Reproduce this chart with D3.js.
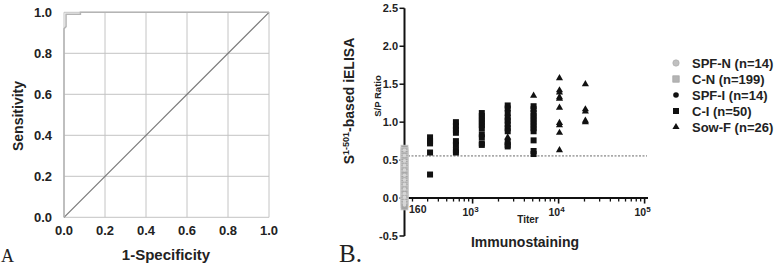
<!DOCTYPE html>
<html>
<script src="https://d3js.org/d3.v7.min.js"></script>
<style>
    body { margin: 0; background: #fff; }
    text { font-family: "Liberation Sans", Arial, sans-serif; fill: #222; }
</style>
<body></body>
<script>
    const width = 778, height = 267;

    // panel A: ROC curve
    const rocFpr = [0, 0, 0.01, 0.01, 0.08, 0.08, 1];
    const rocTpr = [0, 0.92, 0.93, 0.99, 0.99, 1, 1];
    const rocTicks = [0, 0.2, 0.4, 0.6, 0.8, 1];

    // panel B: titers and S/P ratios
    const cnValues = [0.65, 0.62, 0.6, 0.58, 0.55, 0.53, 0.5, 0.48, 0.45, 0.42, 0.4, 0.37, 0.35, 0.32, 0.3,
        0.27, 0.25, 0.22, 0.2, 0.17, 0.15, 0.12, 0.1, 0.07, 0.05, 0.02, 0.0, -0.02, -0.05, -0.08, -0.11];
    const spfnValues = [0.63, 0.56, 0.49, 0.43, 0.37, 0.3, 0.24, 0.18, 0.12, 0.06, 0.01, -0.04, -0.07, -0.09];
    const ciTiters = [320, 640, 1280, 2560, 5120];
    const ciValues = [
        [0.8, 0.75, 0.72, 0.6, 0.31],
        [1.0, 0.95, 0.9, 0.86, 0.75, 0.7, 0.63, 0.6],
        [1.12, 1.08, 1.04, 1.0, 0.96, 0.92, 0.84, 0.8, 0.72, 0.7],
        [1.22, 1.18, 1.12, 1.06, 1.02, 0.97, 0.92, 0.88, 0.74, 0.7, 0.68],
        [1.21, 1.17, 1.12, 1.08, 1.04, 1.0, 0.96, 0.92, 0.88, 0.76, 0.62, 0.58]
    ];
    const sowTiters = [2560, 5120, 10240, 20480];
    const sowValues = [
        [0.8],
        [1.35],
        [1.58, 1.42, 1.39, 1.33, 1.31, 1.19, 0.99, 0.96, 0.86, 0.63],
        [1.5, 1.17, 1.14, 1.02, 1.0]
    ];
    const cutoff = 0.555;
    const spTicks = [-0.5, 0, 0.5, 1, 1.5, 2, 2.5];
    const titerTicks = [1e3, 1e4, 1e5];
    const legendLabels = ["SPF-N (n=14)", "C-N (n=199)", "SPF-I (n=14)", "C-I (n=50)", "Sow-F (n=26)"];

    const svg = d3.select("body").append("svg").attr("width", width).attr("height", height);

    // ---------- panel A ----------
    const xa = d3.scaleLinear().domain([0, 1]).range([64, 269]);
    const ya = d3.scaleLinear().domain([0, 1]).range([217.3, 12.3]);
    const ga = svg.append("g");
    ga.selectAll(".vg").data(rocTicks).join("line")
        .attr("x1", d => xa(d)).attr("x2", d => xa(d))
        .attr("y1", ya(0)).attr("y2", ya(1))
        .attr("stroke", "#c4c4c4").attr("stroke-width", 1);
    ga.selectAll(".hg").data(rocTicks).join("line")
        .attr("x1", xa(0)).attr("x2", xa(1))
        .attr("y1", d => ya(d)).attr("y2", d => ya(d))
        .attr("stroke", "#c4c4c4").attr("stroke-width", 1);
    ga.append("line")
        .attr("x1", xa(0)).attr("y1", ya(0)).attr("x2", xa(1)).attr("y2", ya(1))
        .attr("stroke", "#7a7a7a").attr("stroke-width", 1.2);
    ga.append("path")
        .attr("d", d3.line().x(i => xa(rocFpr[i])).y(i => ya(rocTpr[i]))(d3.range(rocFpr.length)))
        .attr("fill", "none").attr("stroke", "#b4b4b4").attr("stroke-width", 1.5);
    ga.selectAll(".yl").data(rocTicks).join("text")
        .attr("x", 52).attr("y", d => ya(d) + 4.5)
        .attr("text-anchor", "end").attr("font-size", 13).attr("font-weight", "bold")
        .text(d => d.toFixed(1));
    ga.selectAll(".xl").data(rocTicks).join("text")
        .attr("x", d => xa(d)).attr("y", 235)
        .attr("text-anchor", "middle").attr("font-size", 13).attr("font-weight", "bold")
        .text(d => d.toFixed(1));
    ga.append("text").attr("x", 166).attr("y", 260).attr("text-anchor", "middle")
        .attr("font-size", 15).attr("font-weight", "bold").text("1-Specificity");
    ga.append("text").attr("transform", "translate(23,116) rotate(-90)").attr("text-anchor", "middle")
        .attr("font-size", 14).attr("font-weight", "bold").text("Sensitivity");
    ga.append("text").attr("x", 1).attr("y", 262).attr("font-size", 18)
        .style("font-family", "'Liberation Serif', serif").text("A");

    // ---------- panel B ----------
    const xb = d3.scaleLog().domain([100, 1e5]).range([386.6, 644.6]);
    const yb = d3.scaleLinear().domain([-0.5, 2.5]).range([236, 8.3]);
    const axisX = 404.5;
    const gb = svg.append("g");

    // cutoff line
    gb.append("line").attr("x1", axisX).attr("x2", 647)
        .attr("y1", yb(cutoff)).attr("y2", yb(cutoff))
        .attr("stroke", "#444").attr("stroke-width", 0.8).attr("stroke-dasharray", "2,1.5");

    // y axis
    gb.append("line").attr("x1", axisX).attr("x2", axisX)
        .attr("y1", yb(-0.5)).attr("y2", yb(2.5)).attr("stroke", "#111").attr("stroke-width", 2);
    gb.selectAll(".yt").data(spTicks).join("line")
        .attr("x1", axisX - 5).attr("x2", axisX).attr("y1", d => yb(d)).attr("y2", d => yb(d))
        .attr("stroke", "#111").attr("stroke-width", 1.5);
    gb.selectAll(".ytl").data(spTicks).join("text")
        .attr("x", 398).attr("y", d => yb(d) + 4)
        .attr("text-anchor", "end").attr("font-size", 11).attr("font-weight", "bold")
        .text(d => d.toFixed(1));

    // x axis (log)
    const y0 = yb(0);
    gb.append("line").attr("x1", axisX).attr("x2", 648).attr("y1", y0).attr("y2", y0)
        .attr("stroke", "#111").attr("stroke-width", 2);
    const minor = [];
    [100, 1000, 10000].forEach(dec => [2, 3, 4, 5, 6, 7, 8, 9].forEach(m => minor.push(dec * m)));
    gb.selectAll(".mt").data(minor.filter(d => xb(d) > axisX + 3)).join("line")
        .attr("x1", d => xb(d)).attr("x2", d => xb(d)).attr("y1", y0).attr("y2", y0 + 3.5)
        .attr("stroke", "#111").attr("stroke-width", 1.3);
    gb.selectAll(".Mt").data(titerTicks).join("line")
        .attr("x1", d => xb(d)).attr("x2", d => xb(d)).attr("y1", y0).attr("y2", y0 + 5.5)
        .attr("stroke", "#111").attr("stroke-width", 1.6);
    const tl = gb.selectAll(".xtl").data(titerTicks).join("text")
        .attr("x", d => xb(d) - 2).attr("y", 215.5)
        .attr("text-anchor", "middle").attr("font-size", 10.5).attr("font-weight", "bold");
    tl.append("tspan").text("10");
    tl.append("tspan").attr("dy", -4).attr("font-size", 8).text(d => Math.round(Math.log10(d)));
    gb.append("text").attr("x", 409).attr("y", 213).attr("font-size", 10.5).attr("font-weight", "bold").text("160");

    // negatives column
    gb.selectAll(".cn").data(cnValues).join("rect")
        .attr("x", axisX - 3.5).attr("y", d => yb(d) - 3.5).attr("width", 7).attr("height", 7)
        .attr("fill", "#a4a4a4").attr("stroke", "#c8c8c8").attr("stroke-width", 0.8);
    gb.selectAll(".spfn").data(spfnValues).join("circle")
        .attr("cx", axisX).attr("cy", d => yb(d)).attr("r", 1.8)
        .attr("fill", "#d6d6d6");

    // C-I squares
    ciTiters.forEach((t, i) => {
        gb.selectAll(".ci" + i).data(ciValues[i]).join("rect")
            .attr("x", xb(t) - 3).attr("y", d => yb(d) - 3).attr("width", 6).attr("height", 6)
            .attr("fill", "#111");
    });
    // Sow-F triangles
    const tri = d3.symbol().type(d3.symbolTriangle).size(22);
    sowTiters.forEach((t, i) => {
        gb.selectAll(".sf" + i).data(sowValues[i]).join("path")
            .attr("transform", d => `translate(${xb(t)},${yb(d)})`)
            .attr("d", tri).attr("fill", "#111");
    });

    // labels
    gb.append("text").attr("transform", "translate(381,96) rotate(-90)").attr("text-anchor", "middle")
        .attr("font-size", 9.5).attr("font-weight", "bold").text("S/P Ratio");
    const ylab = gb.append("text").attr("transform", "translate(354,101) rotate(-90)").attr("text-anchor", "middle")
        .attr("font-size", 14).attr("font-weight", "bold");
    ylab.append("tspan").text("S");
    ylab.append("tspan").attr("dy", -5).attr("font-size", 9).text("1-501");
    ylab.append("tspan").attr("dy", 5).text("-based iELISA");
    gb.append("text").attr("x", 528).attr("y", 223).attr("text-anchor", "middle")
        .attr("font-size", 10).attr("font-weight", "bold").text("Titer");
    gb.append("text").attr("x", 525).attr("y", 247).attr("text-anchor", "middle")
        .attr("font-size", 14).attr("font-weight", "bold").text("Immunostaining");
    gb.append("text").attr("x", 339).attr("y", 262).attr("font-size", 25)
        .style("font-family", "'Liberation Serif', serif").text("B.");

    // legend
    const ly = d3.scaleLinear().domain([0, 4]).range([63, 127]);
    const lg = svg.append("g");
    const lx = 676;
    lg.append("circle").attr("cx", lx).attr("cy", ly(0)).attr("r", 3.2).attr("fill", "#c0c0c0").attr("stroke", "#a8a8a8").attr("stroke-width", 0.6);
    lg.append("rect").attr("x", lx - 3.2).attr("y", ly(1) - 3.2).attr("width", 6.4).attr("height", 6.4)
        .attr("fill", "#b4b4b4").attr("stroke", "#999").attr("stroke-width", 0.6);
    lg.append("circle").attr("cx", lx).attr("cy", ly(2)).attr("r", 2.8).attr("fill", "#111");
    lg.append("rect").attr("x", lx - 3).attr("y", ly(3) - 3).attr("width", 6).attr("height", 6).attr("fill", "#111");
    lg.append("path").attr("transform", `translate(${lx},${ly(4)})`).attr("d", tri).attr("fill", "#111");
    lg.selectAll(".lt").data(legendLabels).join("text")
        .attr("x", 692).attr("y", (d, i) => ly(i) + 4.5)
        .attr("font-size", 13).attr("font-weight", "bold").text(d => d);
</script>
</html>
